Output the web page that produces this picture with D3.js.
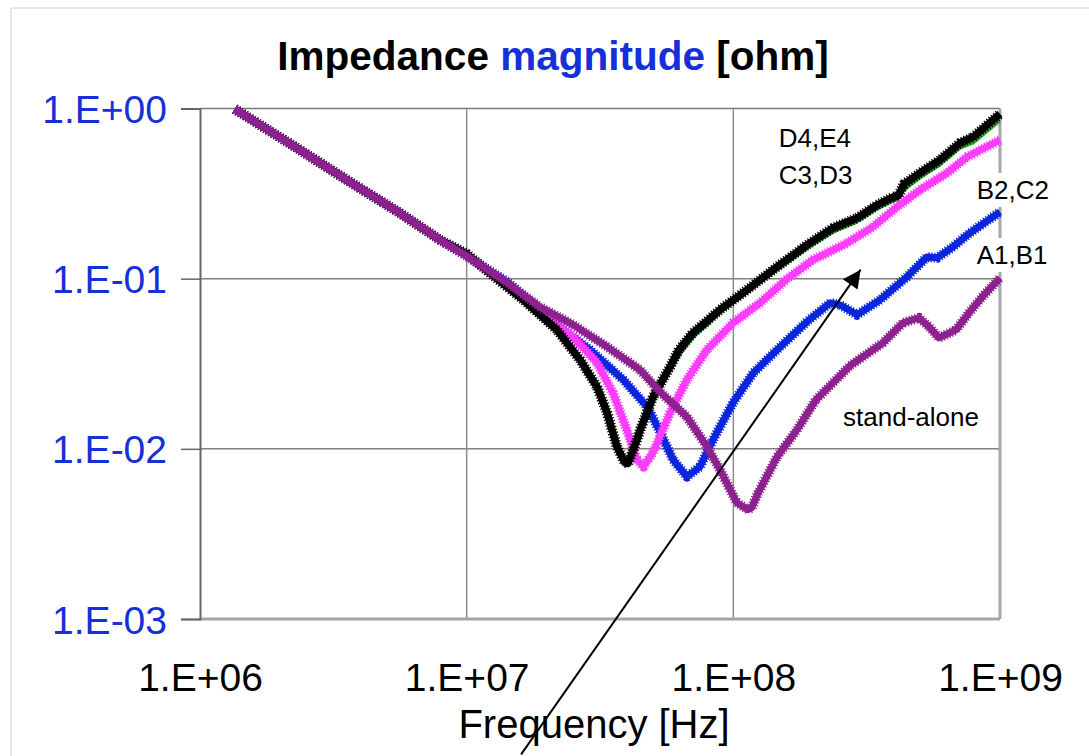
<!DOCTYPE html>
<head>
    <meta charset="utf-8">
    <style>
        body { margin: 0; background: #fff; }
        text { font-family: "Liberation Sans", Arial, sans-serif; }
        .series path { fill: none; stroke-linejoin: round; }
    </style>
</head>
<body>
<svg width="1089" height="756"></svg>
<script src="https://d3js.org/d3.v7.min.js"></script>
<script>
// frequency [Hz] and impedance magnitude [ohm]
var standAloneF = [1.35e6, 2.37e6, 3.65e6, 5.62e6, 7.94e6, 1.0e7, 1.42e7, 1.88e7, 2.51e7, 3.36e7, 4.47e7, 5.31e7, 6.70e7, 7.96e7, 8.91e7, 1.03e8, 1.135e8, 1.17e8, 1.24e8, 1.46e8, 1.73e8, 2.04e8, 2.74e8, 3.64e8, 4.33e8, 4.97e8, 5.42e8, 5.90e8, 6.84e8, 7.65e8, 8.64e8, 1.0e9];
var standAloneZ = [0.993, 0.571, 0.370, 0.243, 0.169, 0.136, 0.0945, 0.0683, 0.0535, 0.0398, 0.0291, 0.0216, 0.0154, 0.0103, 0.00754, 0.00483, 0.00439, 0.0045, 0.00552, 0.0090, 0.0129, 0.0194, 0.0308, 0.0420, 0.0550, 0.0589, 0.0521, 0.0449, 0.0500, 0.0630, 0.0792, 0.101];

var a1b1F = [1.35e6, 2.37e6, 3.65e6, 5.62e6, 7.94e6, 1.0e7, 1.42e7, 1.88e7, 2.18e7, 2.90e7, 3.86e7, 4.75e7, 5.31e7, 5.94e7, 6.70e7, 7.50e7, 8.39e7, 9.98e7, 1.19e8, 1.50e8, 1.89e8, 2.31e8, 2.51e8, 2.91e8, 3.55e8, 4.48e8, 5.32e8, 5.81e8, 6.67e8, 7.72e8, 1.0e9];
var a1b1Z = [0.993, 0.571, 0.370, 0.243, 0.169, 0.136, 0.0958, 0.0656, 0.0535, 0.0382, 0.0255, 0.0177, 0.0126, 0.00863, 0.00686, 0.00785, 0.0113, 0.0187, 0.0280, 0.0398, 0.0559, 0.0721, 0.0702, 0.0613, 0.0751, 0.1025, 0.134, 0.1325, 0.154, 0.186, 0.247];

var b2c2F = [1.35e6, 2.37e6, 3.65e6, 5.62e6, 7.94e6, 1.0e7, 1.22e7, 1.63e7, 2.51e7, 3.08e7, 3.54e7, 3.99e7, 4.35e7, 4.6e7, 5.00e7, 5.79e7, 6.70e7, 7.96e7, 9.98e7, 1.26e8, 1.59e8, 1.99e8, 2.67e8, 3.34e8, 4.11e8, 5.01e8, 6.33e8, 7.52e8, 1.0e9];
var b2c2Z = [0.993, 0.571, 0.370, 0.243, 0.169, 0.138, 0.1096, 0.0763, 0.0455, 0.0321, 0.0213, 0.0129, 0.00863, 0.00785, 0.00949, 0.0163, 0.0255, 0.0382, 0.0550, 0.0721, 0.0997, 0.129, 0.162, 0.2015, 0.264, 0.332, 0.418, 0.519, 0.653];

var c3d3F = [1.35e6, 2.37e6, 3.65e6, 5.62e6, 7.94e6, 1.0e7, 1.22e7, 1.63e7, 2.18e7, 2.66e7, 3.08e7, 3.36e7, 3.66e7, 3.92e7, 4.03e7, 4.40e7, 4.55e7, 5.10e7, 5.90e7, 6.40e7, 7.20e7, 8.10e7, 8.91e7, 1.125e8, 1.41e8, 1.89e8, 2.37e8, 2.91e8, 3.46e8, 4.05e8, 4.37e8, 5.01e8, 5.96e8, 7.08e8, 7.93e8, 1.0e9];
var c3d3Z = [0.993, 0.571, 0.370, 0.243, 0.169, 0.140, 0.108, 0.0751, 0.0500, 0.0334, 0.0232, 0.0163, 0.0103, 0.00828, 0.0082, 0.0113, 0.0130, 0.0202, 0.0303, 0.0370, 0.0465, 0.0545, 0.0630, 0.0826, 0.108, 0.150, 0.188, 0.215, 0.257, 0.289, 0.332, 0.390, 0.466, 0.586, 0.627, 0.845];

var d4e4F = [1.35e6, 2.37e6, 3.65e6, 5.62e6, 7.94e6, 1.0e7, 1.22e7, 1.63e7, 2.18e7, 2.66e7, 3.08e7, 3.36e7, 3.66e7, 3.92e7, 4.03e7, 4.35e7, 4.47e7, 5.00e7, 5.79e7, 6.25e7, 7.06e7, 7.96e7, 8.91e7, 1.125e8, 1.41e8, 1.89e8, 2.37e8, 2.91e8, 3.46e8, 3.97e8, 4.15e8, 4.37e8, 5.01e8, 5.96e8, 7.08e8, 7.93e8, 1.0e9];
var d4e4Z = [0.993, 0.571, 0.370, 0.243, 0.169, 0.140, 0.108, 0.0751, 0.0500, 0.0334, 0.0232, 0.0163, 0.0103, 0.00828, 0.0082, 0.0113, 0.0129, 0.0202, 0.0303, 0.0382, 0.0481, 0.0563, 0.0656, 0.0859, 0.1127, 0.158, 0.199, 0.227, 0.271, 0.302, 0.306, 0.360, 0.418, 0.499, 0.627, 0.680, 0.929];

var xTicks = [1e6, 1e7, 1e8, 1e9];
var yTicks = [1, 0.1, 0.01, 0.001];

// annotations: [text, freq, ohm]
var labels = [
    ["D4,E4", 1.48e8, 0.594],
    ["C3,D3", 1.48e8, 0.360],
    ["B2,C2", 8.18e8, 0.294],
    ["A1,B1", 8.18e8, 0.122],
    ["stand-alone", 2.58e8, 0.01367]
];
var arrowTail = [1.6e7, 1.6e-4];
var arrowHead = [3.0e8, 0.113];

var svg = d3.select("svg");
var plotLeft = 200, plotRight = 1000, plotTop = 108.5, plotBottom = 619;

var x = d3.scaleLog().domain([1e6, 1e9]).range([plotLeft, plotRight]);
var y = d3.scaleLog().domain([0.001, 1]).range([plotBottom, plotTop]);

function expLabel(v) {
    var e = Math.round(Math.log10(v));
    return "1.E" + (e < 0 ? "-" : "+") + String(Math.abs(e)).padStart(2, "0");
}

// outer frame
svg.append("rect")
    .attr("x", 11).attr("y", 8)
    .attr("width", 1100).attr("height", 800)
    .attr("fill", "none").attr("stroke", "#d9d9d9").attr("stroke-width", 1.2);

// title
var title = svg.append("text")
    .attr("x", 553).attr("y", 70)
    .attr("text-anchor", "middle")
    .attr("font-size", 40.5).attr("font-weight", "bold");
title.append("tspan").text("Impedance ");
title.append("tspan").attr("fill", "#1530d8").text("magnitude");
title.append("tspan").text(" [ohm]");

// grid
var grid = svg.append("g");
grid.selectAll(".hg").data([0.1, 0.01]).enter().append("line")
    .attr("x1", plotLeft).attr("x2", plotRight)
    .attr("y1", function(d) { return y(d); }).attr("y2", function(d) { return y(d); })
    .attr("stroke", "#808080").attr("stroke-width", 1.5);
grid.selectAll(".vg").data([1e7, 1e8]).enter().append("line")
    .attr("y1", plotTop).attr("y2", plotBottom)
    .attr("x1", function(d) { return x(d); }).attr("x2", function(d) { return x(d); })
    .attr("stroke", "#8c8c8c").attr("stroke-width", 1.5);

// plot border
svg.append("line").attr("x1", plotLeft).attr("x2", plotRight).attr("y1", plotTop).attr("y2", plotTop)
    .attr("stroke", "#7a7a7a").attr("stroke-width", 1.5);
svg.append("line").attr("x1", plotRight).attr("x2", plotRight).attr("y1", plotTop).attr("y2", plotBottom)
    .attr("stroke", "#a6a6a6").attr("stroke-width", 3);
svg.append("line").attr("x1", plotLeft).attr("x2", plotRight).attr("y1", plotBottom).attr("y2", plotBottom)
    .attr("stroke", "#a6a6a6").attr("stroke-width", 3);

// y axis
var yAxis = svg.append("g")
    .attr("transform", "translate(" + plotLeft + ",0)")
    .call(d3.axisLeft(y).tickValues(yTicks).tickFormat(expLabel).tickSize(19).tickPadding(14));
yAxis.select(".domain").attr("stroke", "#666").attr("stroke-width", 2);
yAxis.selectAll(".tick line").attr("stroke", "#666").attr("stroke-width", 1.5);
yAxis.selectAll(".tick text")
    .attr("font-family", "Liberation Sans, Arial, sans-serif")
    .attr("font-size", 39).attr("fill", "#1530d8").attr("dy", "0.36em");

// x axis
var xAxis = svg.append("g")
    .attr("transform", "translate(0," + plotBottom + ")")
    .call(d3.axisBottom(x).tickValues(xTicks).tickFormat(expLabel).tickSize(0).tickPadding(44));
xAxis.select(".domain").remove();
xAxis.selectAll(".tick text")
    .attr("font-family", "Liberation Sans, Arial, sans-serif")
    .attr("font-size", 39).attr("fill", "#000");

svg.append("text")
    .attr("x", 594).attr("y", 738)
    .attr("text-anchor", "middle")
    .attr("font-size", 40)
    .text("Frequency [Hz]");

// white label boxes (they cover the plot border), curves on top, then label text
var boxG = svg.append("g");
var sg = svg.append("g").attr("class", "series");
var labelG = svg.append("g");

var labelText = labelG.selectAll("text").data(labels).enter().append("text")
    .attr("x", function(d) { return x(d[1]); })
    .attr("y", function(d) { return y(d[2]); })
    .attr("font-size", 26)
    .text(function(d) { return d[0]; });
labelText.each(function() {
    var b = this.getBBox();
    boxG.append("rect")
        .attr("x", b.x - 3).attr("y", b.y - 2)
        .attr("width", b.width + 6).attr("height", b.height + 4)
        .attr("fill", "#fff");
});

// series
var line = d3.line()
    .x(function(d) { return x(d[0]); })
    .y(function(d) { return y(d[1]); });

function pairs(f, z) { return f.map(function(v, i) { return [v, z[i]]; }); }

// drawing order: stand-alone ends up on top
var series = [
    { f: a1b1F, z: a1b1Z, color: "#0b27dc", w: 7 },
    { f: b2c2F, z: b2c2Z, color: "#ff3dff", w: 7 },
    { f: c3d3F, z: c3d3Z, color: "#22aa22", w: 3, thin: true },
    { f: d4e4F, z: d4e4Z, color: "#000000", w: 7.5 },
    { f: standAloneF, z: standAloneZ, color: "#8e2190", w: 7 }
];

series.forEach(function(s) {
    var d = line(pairs(s.f, s.z));
    sg.append("path").attr("d", d).attr("stroke", s.color).attr("stroke-width", s.w);
    if (!s.thin) {
        sg.append("path").attr("d", d).attr("stroke", s.color)
            .attr("stroke-width", s.w + 3).attr("stroke-dasharray", "1.2 1.8");
    }
});

// arrow
var defs = svg.append("defs");
defs.append("marker")
    .attr("id", "head")
    .attr("viewBox", "0 0 10 10")
    .attr("refX", 10).attr("refY", 5)
    .attr("markerWidth", 24).attr("markerHeight", 18)
    .attr("markerUnits", "userSpaceOnUse")
    .attr("orient", "auto")
    .append("path").attr("d", "M0,0 L10,5 L0,10 Z").attr("fill", "#000");

svg.append("line")
    .attr("x1", x(arrowTail[0])).attr("y1", y(arrowTail[1]))
    .attr("x2", x(arrowHead[0])).attr("y2", y(arrowHead[1]))
    .attr("stroke", "#000").attr("stroke-width", 2)
    .attr("marker-end", "url(#head)");
</script>
</body>
